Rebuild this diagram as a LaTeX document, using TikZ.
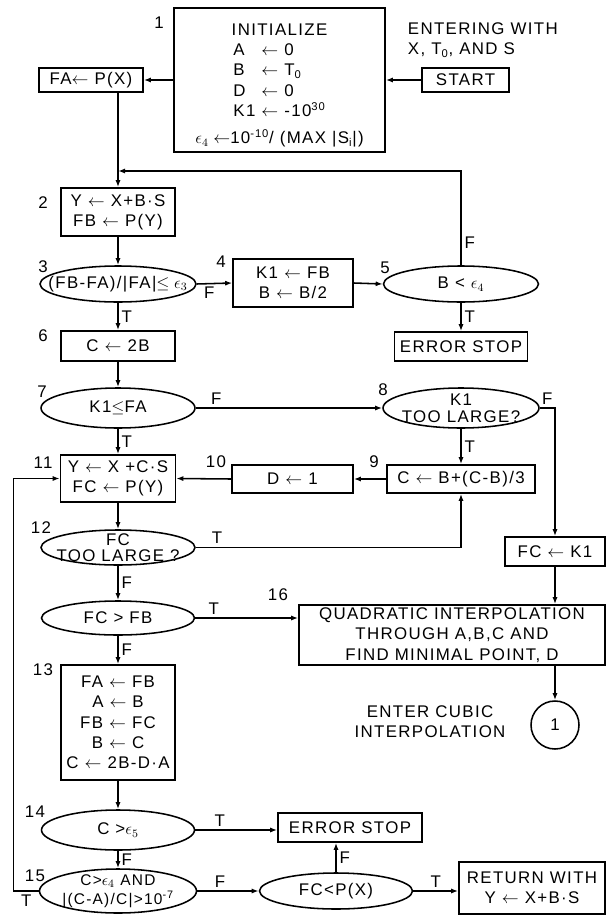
\documentclass[tikz,border=0pt]{standalone}
\usepackage{fontspec}
\setmainfont{Liberation Sans}[LetterSpace=8]
\usepackage{tikz}
\usetikzlibrary{shapes.geometric,arrows.meta,positioning}
\tikzset{
    box/.style={rectangle, draw, line width=1.1pt, inner sep=2pt, align=center},
    oval/.style={ellipse, draw, line width=1.1pt, inner sep=0pt, minimum width=38.5mm, minimum height=9mm},
    arrow/.style={-{Latex[length=5pt,width=3.6pt]}, line width=1.1pt},
    num/.style={inner sep=1pt},
    tf/.style={inner sep=2pt},
}

\begin{document}
\begin{tikzpicture}[x=0.25mm, y=-0.25mm, font=\fontsize{12}{14.4}\selectfont]
    \useasboundingbox (0,0) rectangle (607,916);

    % Entry and initialization
    \node[box, minimum width=52.75mm, minimum height=36mm] (init) at (279.5,80) {\rule{0pt}{16pt}INITIALIZE\\
        \begin{tabular}[t]{@{}l@{\ }c@{\ }l@{}}A & $\leftarrow$ & 0\\ B & $\leftarrow$ & T\textsubscript{0}\\ D & $\leftarrow$ & 0\\ K1 & $\leftarrow$ & -10\textsuperscript{30}\end{tabular}\\[4pt]
        $\epsilon_4\leftarrow$10\textsuperscript{-10}/ (MAX |S\textsubscript{i}|)};
    \node[box, minimum width=21.75mm, minimum height=6mm] (start) at (465.5,80) {START};
    \node[align=left, anchor=west] (entering) at (403,40) {ENTERING WITH\\X, T\textsubscript{0}, AND S};
    \node[box, minimum width=26mm, minimum height=6mm] (fa) at (91,80) {FA$\leftarrow$ P(X)};

    % Step search
    \node[box, minimum width=28.5mm, minimum height=12mm] (box2) at (118,212) {Y $\leftarrow$ X+B·S\\FB $\leftarrow$ P(Y)};
    \node[oval, minimum width=39mm, label=center:{(FB-FA)/|FA|$\le\epsilon_3$}] (d3) at (118,284) {};
    \node[box, minimum width=30mm, minimum height=12mm] (box4) at (293,283) {K1 $\leftarrow$ FB\\B $\leftarrow$ B/2};
    \node[oval, minimum width=38.75mm, label=center:{B < $\epsilon_4$}] (d5) at (461,284) {};
    \node[box, minimum width=28.5mm, minimum height=7.5mm] (box6) at (118,346) {C $\leftarrow$ 2B};
    \node[box, minimum width=33.25mm, minimum height=7.25mm] (err1) at (461,346.5) {ERROR STOP};
    \node[oval, minimum height=10mm, label=center:{K1$\le$FA}] (d7) at (118,408) {};
    \node[oval, minimum width=39mm, minimum height=10mm, label={[align=center]center:{K1\\[-2pt]TOO LARGE?}}] (d8) at (461,408) {};

    % Reduce step
    \node[box, minimum width=28.75mm, minimum height=11.75mm] (box11) at (118,478.5) {Y $\leftarrow$ X +C·S\\FC $\leftarrow$ P(Y)};
    \node[box, minimum width=30.25mm, minimum height=7mm] (box10) at (292.5,479) {D $\leftarrow$ 1};
    \node[box, minimum width=37mm, minimum height=7mm] (box9) at (461,479) {C $\leftarrow$ B+(C-B)/3};
    \node[oval, minimum height=8.75mm, label={[align=center]center:{FC\\[-3pt]TOO LARGE ?}}] (d12) at (118,547.5) {};
    \node[box, minimum width=25mm, minimum height=7.25mm] (fck1) at (555,551.5) {FC $\leftarrow$ K1};

    % Interpolation
    \node[oval, minimum width=38.25mm, minimum height=8.5mm, label=center:{FC > FB}] (dfcfb) at (118,618) {};
    \node[box, minimum width=76.5mm, minimum height=15mm] (box16) at (452,635) {QUADRATIC INTERPOLATION\\THROUGH A,B,C AND\\FIND MINIMAL POINT, D};
    \node[box, minimum width=28.5mm, minimum height=28.75mm] (box13) at (118,722.5) {FA $\leftarrow$ FB\\A $\leftarrow$ B\\FB $\leftarrow$ FC\\B $\leftarrow$ C\\C $\leftarrow$ 2B-D·A};
    \node[circle, draw, line width=1.1pt, minimum size=12mm, inner sep=0pt] (circ) at (555,725) {1};
    \node[align=center] (enter) at (430,722) {ENTER CUBIC\\INTERPOLATION};

    % Exit tests
    \node[oval, minimum width=38.25mm, minimum height=10mm, label=center:{C >$\epsilon_5$}] (d14) at (118,830) {};
    \node[box, minimum width=36mm, minimum height=7.25mm] (err2) at (350,827.5) {ERROR STOP};
    \node[oval, minimum width=39.25mm, minimum height=11mm, label={[align=center, font=\fontsize{11}{13.5}\selectfont]center:{C>$\epsilon_4$ AND\\|(C-A)/C|>10\textsuperscript{-7}}}] (d15) at (118,891) {};
    \node[oval, minimum width=38.25mm, label=center:{FC<P(X)}] (dfcp) at (336,891) {};
    \node[box, minimum width=36.5mm, minimum height=13mm] (ret) at (532,888) {RETURN WITH\\Y $\leftarrow$ X+B·S};

    % Step numbers
    \node[num] (n1) at (159,23) {1};
    \node[num] (n2) at (43,203) {2};
    \node[num] (n3) at (43,267) {3};
    \node[num] (n4) at (221,262) {4};
    \node[num] (n5) at (385,268) {5};
    \node[num] (n6) at (43,336) {6};
    \node[num] (n7) at (42,392) {7};
    \node[num] (n8) at (383,390) {8};
    \node[num] (n9) at (374,462) {9};
    \node[num] (n10) at (216,462) {10};
    \node[num] (n11) at (43,463) {11};
    \node[num] (n12) at (41,528) {12};
    \node[num] (n13) at (43,670) {13};
    \node[num] (n14) at (35,812) {14};
    \node[num] (n15) at (35,876) {15};
    \node[num] (n16) at (278,595) {16};

    % Arrows
    \coordinate (jn) at (118,171);
    \draw[arrow] (init.west) -- (fa.east);
    \draw[arrow] (start.west) -- (init.east);
    \draw[arrow] (fa.south -| box2.north) -- (box2.north);
    \draw[arrow] (d5.north) |- node[tf, right, pos=0.12] {F} (jn);
    \draw[arrow] (box2) -- (d3);
    \draw[arrow] (d3.east) -- node[tf, below, pos=0.35] {F} (box4.west);
    \draw[arrow] (box4.east) -- (d5.west);
    \draw[arrow] (d3) -- node[tf, right] {T} (box6);
    \draw[arrow] (d5) -- node[tf, right] {T} (err1);
    \draw[arrow] (box6) -- (d7);
    \draw[arrow] (d7.east) -- node[tf, above, pos=0.11] {F} (d8.west);
    \draw[arrow] (d7) -- node[tf, right] {T} (box11);
    \draw[arrow] (d8) -- node[tf, right] {T} (box9);
    \draw[arrow] (d8.east) -| node[tf, above, pos=0.25] {F} (fck1.north);
    \draw[arrow] (box9.west) -- (box10.east);
    \draw[arrow] (box10.west) -- (box11.east);
    \draw[arrow] (box11) -- (d12);
    \draw[arrow] (d12.east) -| node[tf, above, pos=0.04] {T} (box9.south);
    \draw[arrow] (fck1.south) -- (fck1.south |- box16.north);
    \draw[arrow] (d12) -- node[tf, right] {F} (dfcfb);
    \draw[arrow] (dfcfb.east) -- node[tf, above, pos=0.18] {T} (dfcfb.east -| box16.west);
    \draw[arrow] (dfcfb) -- node[tf, right] {F} (box13);
    \draw[arrow] (box16.south -| circ.north) -- (circ.north);
    \draw[arrow] (box13) -- (d14);
    \draw[arrow] (d14.east) -- node[tf, above, pos=0.3] {T} (d14.east -| err2.west);
    \draw[arrow] (d14) -- node[tf, right] {F} (d15);
    \draw[arrow] (d15.east) -- node[tf, above, pos=0.37] {F} (dfcp.west);
    \draw[arrow] (dfcp.north) -- node[tf, right] {F} (dfcp.north |- err2.south);
    \draw[arrow] (dfcp.east) -- node[tf, above] {T} (dfcp.east -| ret.west);
    \draw[arrow] (d15.west) -- node[tf, below] {T} ++(-25,0) |- (box11.west);
\end{tikzpicture}
\end{document}
